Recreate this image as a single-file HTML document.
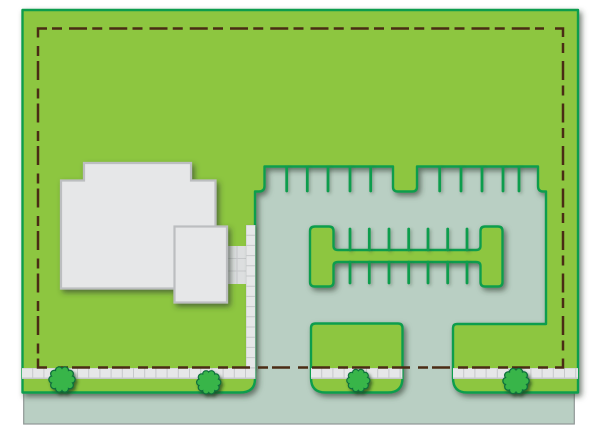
<!DOCTYPE html>
<html><head><meta charset="utf-8">
<style>html,body{margin:0;padding:0;background:#fff}svg{display:block}</style>
</head><body>
<svg xmlns="http://www.w3.org/2000/svg" width="600" height="434" viewBox="0 0 600 434">
<defs>
<filter id="s" x="-10%" y="-10%" width="120%" height="120%"><feDropShadow dx="2.5" dy="3" stdDeviation="3" flood-color="#2f3f2f" flood-opacity=".65"/></filter>
<filter id="t" x="-40%" y="-40%" width="180%" height="180%"><feDropShadow dx="2" dy="2.5" stdDeviation="1.5" flood-color="#1e3a1e" flood-opacity=".7"/></filter>
<filter id="p" x="-40%" y="-40%" width="180%" height="180%"><feDropShadow dx="1.500" dy="1.500" stdDeviation="1.500" flood-color="#3a4a3a" flood-opacity=".4"/></filter>
<g id="tree">
<g fill="#39b54a" stroke="#0f6f3c" stroke-width="1.6">
<circle cx="9.5" cy="0" r="3.5"/><circle cx="7.7" cy="5.6" r="3.5"/><circle cx="2.9" cy="9" r="3.5"/><circle cx="-2.9" cy="9" r="3.5"/><circle cx="-7.7" cy="5.6" r="3.5"/><circle cx="-9.5" cy="0" r="3.5"/><circle cx="-7.7" cy="-5.6" r="3.5"/><circle cx="-2.9" cy="-9" r="3.5"/><circle cx="2.9" cy="-9" r="3.5"/><circle cx="7.7" cy="-5.6" r="3.5"/>
</g>
<g fill="#39b54a">
<circle cx="9.5" cy="0" r="3"/><circle cx="7.7" cy="5.6" r="3"/><circle cx="2.9" cy="9" r="3"/><circle cx="-2.9" cy="9" r="3"/><circle cx="-7.7" cy="5.6" r="3"/><circle cx="-9.5" cy="0" r="3"/><circle cx="-7.7" cy="-5.6" r="3"/><circle cx="-2.9" cy="-9" r="3"/><circle cx="2.9" cy="-9" r="3"/><circle cx="7.7" cy="-5.6" r="3"/>
<circle r="10"/>
</g>
</g>
</defs>

<!-- road -->
<rect x="23.7" y="150" width="550.6" height="274" fill="#b9cfc3" stroke="#8f9795" stroke-width="1.2"/>

<!-- green areas -->
<g filter="url(#s)" fill="#8dc63f" stroke="#0f9d4d" stroke-width="2.4" stroke-linejoin="round">
<path d="M22.5 10H578V392.5H467Q453 392.5 453 378V328Q453 324 457 324H546V191.5H543Q538 191.5 538 186V166.5H417V187Q417 191.5 412 191.5H398Q393 191.5 393 187V166.5H264.5V186Q264.5 191.5 259 191.5H255V379Q255 392.5 240 392.5H22.5Z"/>
<path d="M315.5 323.5H398Q402.5 323.5 402.5 328V378Q402.5 392.5 388 392.5H325.5Q311 392.5 311 378V328Q311 323.5 315.5 323.5Z"/>
<path d="M315 226.5H329Q333.5 226.5 333.5 231V246Q333.5 250 338 250H476Q480.5 250 480.5 246V231Q480.5 226.5 485 226.5H498Q502.5 226.5 502.5 231V282Q502.5 286.5 498 286.5H485Q480.5 286.5 480.5 282V266Q480.5 262 476 262H338Q333.5 262 333.5 266V282Q333.5 286.5 329 286.5H315Q310 286.5 310 282V231Q310 226.5 315 226.5Z"/>
</g>

<!-- parking stripes -->
<g filter="url(#p)" stroke="#0f9d4d" stroke-width="2.800" stroke-linecap="round" fill="none">
<path d="M286.7 167V191M307.3 167V191M328 167V191M350 167V191M370.7 167V191M439.7 167V191M461 167V191M482 167V191M503 167V191M519 167V191"/>
<path d="M350 229V250M369.3 229V250M389 229V250M408.7 229V250M428 229V250M447.7 229V250M467 229V250"/>
<path d="M350 262V283M369.3 262V283M389 262V283M408.7 262V283M428 262V283M447.7 262V283M467 262V283"/>
</g>

<!-- buildings -->
<rect x="228" y="246" width="18" height="38" fill="#dcdedf"/>
<path d="M228 258.500H246M228 271H246M237 246V284" stroke="#c6c8ca" stroke-width="1" fill="none"/>
<g filter="url(#s)" fill="#e6e7e8" stroke="#bcbec0" stroke-width="2.200">
<path d="M61 180.500H84V163H191V180.500H215.500V288.500H61Z"/>
<rect x="174.500" y="226.500" width="52.500" height="76"/>
</g>

<!-- sidewalks -->
<rect x="246" y="225" width="9.500" height="144" fill="#c6c8ca" filter="url(#p)"/>
<rect x="22" y="368" width="233.500" height="11" fill="#c6c8ca"/>
<rect x="311" y="368" width="91.500" height="11" fill="#c6c8ca"/>
<rect x="453" y="368" width="125" height="11" fill="#c6c8ca"/>
<line x1="250.700" y1="225.500" x2="250.700" y2="368" stroke="#e6e7e8" stroke-width="8.500" stroke-dasharray="9.200 1"/>
<line x1="22" y1="373" x2="255" y2="373" stroke="#e6e7e8" stroke-width="9" stroke-dasharray="10.200 1"/>
<line x1="311" y1="373" x2="402" y2="373" stroke="#e6e7e8" stroke-width="9" stroke-dasharray="10.200 1"/>
<line x1="453" y1="373" x2="578" y2="373" stroke="#e6e7e8" stroke-width="9" stroke-dasharray="10.200 1"/>

<!-- setback line -->
<g stroke="#4a2c14" stroke-width="2.500" fill="none">
<path d="M38 37.500V28.500H47"/>
<line x1="52" y1="28.500" x2="544" y2="28.500" stroke-dasharray="10 7 18 5.250"/>
<path d="M555 28.500H563V37"/>
<line x1="563" y1="43" x2="563" y2="351" stroke-dasharray="10 8 19 5.500"/>
<path d="M563 358.500V367.500H555"/>
<line x1="58" y1="367.500" x2="551" y2="367.500" stroke-dasharray="10 4 18 8"/>
<path d="M47 367.500H38V358.500"/>
<line x1="38" y1="46" x2="38" y2="354" stroke-dasharray="10 5 19 8.500"/>
</g>

<!-- trees -->
<g filter="url(#t)">
<use href="#tree" transform="translate(62 379.500)"/>
<use href="#tree" transform="translate(208.700 382.300) scale(.92)"/>
<use href="#tree" transform="translate(358.300 380.500) scale(.88)"/>
<use href="#tree" transform="translate(516 381)"/>
</g>
</svg>
</body></html>
